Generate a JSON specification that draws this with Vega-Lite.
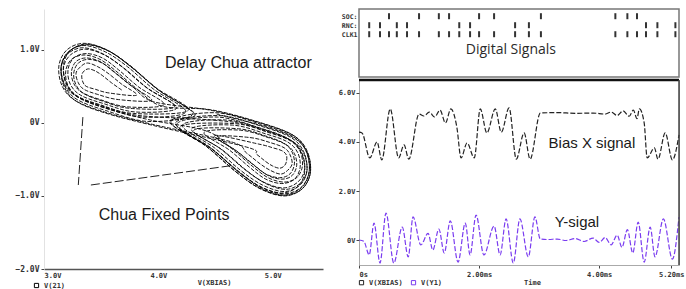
{
"$schema": "https://vega.github.io/schema/vega-lite/v6.json",
"background": "white",
"padding": {"left": 14, "top": 8, "right": 0, "bottom": 0},
"config": {
  "font": "Liberation Sans",
  "view": {"stroke": null},
  "axis": {"grid": false, "labelFont": "DejaVu Sans Mono", "labelFontWeight": "bold", "labelColor": "#333", "titleFont": "DejaVu Sans Mono", "titleFontWeight": "bold", "titleFontSize": 7, "titleColor": "#333", "tickColor": "#444"},
  "legend": {"labelFont": "DejaVu Sans Mono", "labelFontWeight": "bold", "labelFontSize": 7, "labelColor": "#333", "symbolType": "square", "symbolSize": 18, "symbolStrokeWidth": 1, "padding": 0, "columnPadding": 6, "title": null}
},
"bounds": "flush",
"spacing": 36,
"resolve": {"scale": {"color": "independent"}, "legend": {"color": "independent"}},
"hconcat": [
{
  "width": 279, "height": 260,
  "encoding": {
    "x": {"field": "x", "type": "quantitative", "scale": {"domain": [3, 5.44], "nice": false, "zero": false},
          "axis": {"values": [3, 4, 5], "labelExpr": "format(datum.value, '.1f') + 'V'", "labelFontSize": 7, "ticks": false, "labelPadding": 2, "domainColor": "#555", "domainWidth": 1.5, "title": "V(XBIAS)", "titleX": 170, "titlePadding": 0}},
    "y": {"field": "y", "type": "quantitative", "scale": {"domain": [-2, 1.56], "nice": false, "zero": false},
          "axis": {"values": [-2, -1, 0, 1], "labelExpr": "datum.value == 0 ? '0V' : format(datum.value, '.1f') + 'V'", "labelFontSize": 8, "tickSize": 3, "labelPadding": 2, "domainColor": "#e2e2e2", "title": null}}
  },
  "layer": [
    {
      "data": {"values": [
{"o":1,"x":3.68,"y":0.45},{"o":2,"x":3.59,"y":0.55},{"o":3,"x":3.51,"y":0.65},{"o":4,"x":3.45,"y":0.71},{"o":5,"x":3.39,"y":0.74},{"o":6,"x":3.35,"y":0.71},{"o":7,"x":3.33,"y":0.65},{"o":8,"x":3.34,"y":0.56},{"o":9,"x":3.37,"y":0.50},{"o":10,"x":3.45,"y":0.46},{"o":11,"x":3.57,"y":0.41},
{"o":12,"x":3.81,"y":0.38},{"o":13,"x":3.68,"y":0.53},{"o":14,"x":3.56,"y":0.68},{"o":15,"x":3.47,"y":0.77},{"o":16,"x":3.38,"y":0.82},{"o":17,"x":3.32,"y":0.77},{"o":18,"x":3.28,"y":0.68},{"o":19,"x":3.30,"y":0.55},{"o":20,"x":3.35,"y":0.46},{"o":21,"x":3.47,"y":0.39},{"o":22,"x":3.65,"y":0.32},
{"o":23,"x":3.94,"y":0.31},{"o":24,"x":3.76,"y":0.51},{"o":25,"x":3.61,"y":0.70},{"o":26,"x":3.49,"y":0.84},{"o":27,"x":3.37,"y":0.89},{"o":28,"x":3.28,"y":0.84},{"o":29,"x":3.24,"y":0.70},{"o":30,"x":3.26,"y":0.54},{"o":31,"x":3.33,"y":0.42},{"o":32,"x":3.49,"y":0.32},{"o":33,"x":3.73,"y":0.22},
{"o":34,"x":4.05,"y":0.25},{"o":35,"x":3.83,"y":0.49},{"o":36,"x":3.65,"y":0.73},{"o":37,"x":3.51,"y":0.89},{"o":38,"x":3.37,"y":0.95},{"o":39,"x":3.26,"y":0.89},{"o":40,"x":3.21,"y":0.73},{"o":41,"x":3.23,"y":0.53},{"o":42,"x":3.32,"y":0.38},{"o":43,"x":3.51,"y":0.27},{"o":44,"x":3.80,"y":0.15},
{"o":45,"x":4.16,"y":0.20},{"o":46,"x":3.91,"y":0.47},{"o":47,"x":3.70,"y":0.75},{"o":48,"x":3.53,"y":0.93},{"o":49,"x":3.36,"y":1.01},{"o":50,"x":3.23,"y":0.93},{"o":51,"x":3.17,"y":0.75},{"o":52,"x":3.20,"y":0.51},{"o":53,"x":3.30,"y":0.35},{"o":54,"x":3.53,"y":0.21},{"o":55,"x":3.86,"y":0.08},
{"o":56,"x":4.24,"y":0.15},{"o":57,"x":3.96,"y":0.46},{"o":58,"x":3.73,"y":0.77},{"o":59,"x":3.54,"y":0.97},{"o":60,"x":3.35,"y":1.06},{"o":61,"x":3.21,"y":0.97},{"o":62,"x":3.15,"y":0.77},{"o":63,"x":3.18,"y":0.51},{"o":64,"x":3.29,"y":0.32},{"o":65,"x":3.54,"y":0.17},{"o":66,"x":3.91,"y":0.02},
{"o":67,"x":4.30,"y":0.12},{"o":68,"x":4.00,"y":0.45},{"o":69,"x":3.75,"y":0.78},{"o":70,"x":3.55,"y":1.00},{"o":71,"x":3.35,"y":1.09},{"o":72,"x":3.20,"y":1.00},{"o":73,"x":3.13,"y":0.78},{"o":74,"x":3.16,"y":0.50},{"o":75,"x":3.28,"y":0.30},{"o":76,"x":3.55,"y":0.14},{"o":77,"x":3.95,"y":-0.02},
{"o":78,"x":4.64,"y":-0.26},{"o":79,"x":4.77,"y":-0.41},{"o":80,"x":4.89,"y":-0.56},{"o":81,"x":4.98,"y":-0.65},{"o":82,"x":5.07,"y":-0.70},{"o":83,"x":5.13,"y":-0.65},{"o":84,"x":5.17,"y":-0.56},{"o":85,"x":5.15,"y":-0.43},{"o":86,"x":5.10,"y":-0.34},{"o":87,"x":4.98,"y":-0.27},{"o":88,"x":4.80,"y":-0.20},
{"o":89,"x":4.51,"y":-0.19},{"o":90,"x":4.69,"y":-0.39},{"o":91,"x":4.84,"y":-0.58},{"o":92,"x":4.96,"y":-0.72},{"o":93,"x":5.08,"y":-0.77},{"o":94,"x":5.17,"y":-0.72},{"o":95,"x":5.21,"y":-0.58},{"o":96,"x":5.19,"y":-0.42},{"o":97,"x":5.12,"y":-0.30},{"o":98,"x":4.96,"y":-0.20},{"o":99,"x":4.72,"y":-0.10},
{"o":100,"x":4.40,"y":-0.13},{"o":101,"x":4.62,"y":-0.37},{"o":102,"x":4.80,"y":-0.61},{"o":103,"x":4.94,"y":-0.77},{"o":104,"x":5.08,"y":-0.83},{"o":105,"x":5.19,"y":-0.77},{"o":106,"x":5.24,"y":-0.61},{"o":107,"x":5.22,"y":-0.41},{"o":108,"x":5.13,"y":-0.26},{"o":109,"x":4.94,"y":-0.15},{"o":110,"x":4.65,"y":-0.03},
{"o":111,"x":4.29,"y":-0.08},{"o":112,"x":4.54,"y":-0.35},{"o":113,"x":4.75,"y":-0.63},{"o":114,"x":4.92,"y":-0.81},{"o":115,"x":5.09,"y":-0.89},{"o":116,"x":5.22,"y":-0.81},{"o":117,"x":5.28,"y":-0.63},{"o":118,"x":5.25,"y":-0.39},{"o":119,"x":5.15,"y":-0.23},{"o":120,"x":4.92,"y":-0.09},{"o":121,"x":4.59,"y":0.04},
{"o":122,"x":4.21,"y":-0.03},{"o":123,"x":4.49,"y":-0.34},{"o":124,"x":4.72,"y":-0.65},{"o":125,"x":4.91,"y":-0.85},{"o":126,"x":5.10,"y":-0.94},{"o":127,"x":5.24,"y":-0.85},{"o":128,"x":5.30,"y":-0.65},{"o":129,"x":5.27,"y":-0.39},{"o":130,"x":5.16,"y":-0.20},{"o":131,"x":4.91,"y":-0.05},{"o":132,"x":4.54,"y":0.10},
{"o":133,"x":4.15,"y":0.00},{"o":134,"x":4.45,"y":-0.33},{"o":135,"x":4.70,"y":-0.66},{"o":136,"x":4.90,"y":-0.88},{"o":137,"x":5.10,"y":-0.97},{"o":138,"x":5.25,"y":-0.88},{"o":139,"x":5.32,"y":-0.66},{"o":140,"x":5.29,"y":-0.38},{"o":141,"x":5.17,"y":-0.18},{"o":142,"x":4.90,"y":-0.02},{"o":143,"x":4.50,"y":0.14},
{"o":144,"x":4.11,"y":0.02},{"o":145,"x":4.42,"y":-0.32},{"o":146,"x":4.68,"y":-0.67},{"o":147,"x":4.89,"y":-0.90},{"o":148,"x":5.10,"y":-1.00},{"o":149,"x":5.26,"y":-0.90},{"o":150,"x":5.33,"y":-0.67},{"o":151,"x":5.30,"y":-0.38},{"o":152,"x":5.18,"y":-0.17},{"o":153,"x":4.89,"y":0.00},{"o":154,"x":4.47,"y":0.17},
{"o":155,"x":3.96,"y":0.29},{"o":156,"x":3.78,"y":0.49},{"o":157,"x":3.63,"y":0.68},{"o":158,"x":3.51,"y":0.82},{"o":159,"x":3.39,"y":0.87},{"o":160,"x":3.30,"y":0.82},{"o":161,"x":3.26,"y":0.68},{"o":162,"x":3.28,"y":0.52},{"o":163,"x":3.35,"y":0.40},{"o":164,"x":3.51,"y":0.30},{"o":165,"x":3.75,"y":0.20},
{"o":166,"x":4.14,"y":0.22},{"o":167,"x":3.89,"y":0.49},{"o":168,"x":3.68,"y":0.77},{"o":169,"x":3.51,"y":0.95},{"o":170,"x":3.34,"y":1.03},{"o":171,"x":3.21,"y":0.95},{"o":172,"x":3.15,"y":0.77},{"o":173,"x":3.18,"y":0.53},{"o":174,"x":3.28,"y":0.37},{"o":175,"x":3.51,"y":0.23},{"o":176,"x":3.84,"y":0.10},
{"o":177,"x":4.32,"y":0.10},{"o":178,"x":4.02,"y":0.43},{"o":179,"x":3.77,"y":0.76},{"o":180,"x":3.57,"y":0.98},{"o":181,"x":3.37,"y":1.07},{"o":182,"x":3.22,"y":0.98},{"o":183,"x":3.15,"y":0.76},{"o":184,"x":3.18,"y":0.48},{"o":185,"x":3.30,"y":0.28},{"o":186,"x":3.57,"y":0.12},{"o":187,"x":3.97,"y":-0.04},
{"o":188,"x":4.77,"y":-0.33},{"o":189,"x":4.86,"y":-0.43},{"o":190,"x":4.94,"y":-0.53},{"o":191,"x":5.00,"y":-0.59},{"o":192,"x":5.06,"y":-0.62},{"o":193,"x":5.10,"y":-0.59},{"o":194,"x":5.12,"y":-0.53},{"o":195,"x":5.12,"y":-0.44},{"o":196,"x":5.08,"y":-0.38},{"o":197,"x":5.00,"y":-0.34},{"o":198,"x":4.88,"y":-0.29},
{"o":199,"x":4.49,"y":-0.17},{"o":200,"x":4.67,"y":-0.37},{"o":201,"x":4.82,"y":-0.56},{"o":202,"x":4.94,"y":-0.70},{"o":203,"x":5.06,"y":-0.75},{"o":204,"x":5.15,"y":-0.70},{"o":205,"x":5.19,"y":-0.56},{"o":206,"x":5.17,"y":-0.40},{"o":207,"x":5.10,"y":-0.28},{"o":208,"x":4.94,"y":-0.18},{"o":209,"x":4.70,"y":-0.08},
{"o":210,"x":4.31,"y":-0.10},{"o":211,"x":4.56,"y":-0.37},{"o":212,"x":4.77,"y":-0.65},{"o":213,"x":4.94,"y":-0.83},{"o":214,"x":5.11,"y":-0.91},{"o":215,"x":5.24,"y":-0.83},{"o":216,"x":5.30,"y":-0.65},{"o":217,"x":5.27,"y":-0.41},{"o":218,"x":5.17,"y":-0.25},{"o":219,"x":4.94,"y":-0.11},{"o":220,"x":4.61,"y":0.02},
{"o":221,"x":4.10,"y":0.03},{"o":222,"x":4.41,"y":-0.31},{"o":223,"x":4.67,"y":-0.66},{"o":224,"x":4.88,"y":-0.89},{"o":225,"x":5.09,"y":-0.99},{"o":226,"x":5.25,"y":-0.89},{"o":227,"x":5.32,"y":-0.66},{"o":228,"x":5.29,"y":-0.37},{"o":229,"x":5.17,"y":-0.16},{"o":230,"x":4.88,"y":0.01},{"o":231,"x":4.46,"y":0.18},
{"o":232,"x":4.03,"y":0.23},{"o":233,"x":3.81,"y":0.47},{"o":234,"x":3.63,"y":0.71},{"o":235,"x":3.49,"y":0.87},{"o":236,"x":3.35,"y":0.93},{"o":237,"x":3.24,"y":0.87},{"o":238,"x":3.19,"y":0.71},{"o":239,"x":3.21,"y":0.51},{"o":240,"x":3.30,"y":0.36},{"o":241,"x":3.49,"y":0.25},{"o":242,"x":3.78,"y":0.13},
{"o":243,"x":4.26,"y":0.17},{"o":244,"x":3.98,"y":0.48},{"o":245,"x":3.75,"y":0.79},{"o":246,"x":3.56,"y":0.99},{"o":247,"x":3.37,"y":1.08},{"o":248,"x":3.23,"y":0.99},{"o":249,"x":3.17,"y":0.79},{"o":250,"x":3.20,"y":0.53},{"o":251,"x":3.31,"y":0.34},{"o":252,"x":3.56,"y":0.19},{"o":253,"x":3.93,"y":0.04},
{"o":254,"x":4.42,"y":-0.11},{"o":255,"x":4.64,"y":-0.35},{"o":256,"x":4.82,"y":-0.59},{"o":257,"x":4.96,"y":-0.75},{"o":258,"x":5.10,"y":-0.81},{"o":259,"x":5.21,"y":-0.75},{"o":260,"x":5.26,"y":-0.59},{"o":261,"x":5.24,"y":-0.39},{"o":262,"x":5.15,"y":-0.24},{"o":263,"x":4.96,"y":-0.13},{"o":264,"x":4.67,"y":-0.01},
{"o":265,"x":4.19,"y":-0.05},{"o":266,"x":4.47,"y":-0.36},{"o":267,"x":4.70,"y":-0.67},{"o":268,"x":4.89,"y":-0.87},{"o":269,"x":5.08,"y":-0.96},{"o":270,"x":5.22,"y":-0.87},{"o":271,"x":5.28,"y":-0.67},{"o":272,"x":5.25,"y":-0.41},{"o":273,"x":5.14,"y":-0.22},{"o":274,"x":4.89,"y":-0.07},{"o":275,"x":4.52,"y":0.08},
{"o":276,"x":4.16,"y":-0.02},{"o":277,"x":4.46,"y":-0.35},{"o":278,"x":4.71,"y":-0.68},{"o":279,"x":4.91,"y":-0.90},{"o":280,"x":5.11,"y":-0.99},{"o":281,"x":5.26,"y":-0.90},{"o":282,"x":5.33,"y":-0.68},{"o":283,"x":5.30,"y":-0.40},{"o":284,"x":5.18,"y":-0.20},{"o":285,"x":4.91,"y":-0.04},{"o":286,"x":4.51,"y":0.12}
      ]},
      "mark": {"type": "line", "interpolate": "cardinal", "strokeWidth": 0.9, "strokeDash": [4, 1.5]},
      "encoding": {
        "order": {"field": "o", "type": "quantitative"},
        "color": {"datum": "V(21)", "type": "nominal", "scale": {"range": ["#000000"]},
                  "legend": {"orient": "none", "legendX": -11, "legendY": 273, "direction": "horizontal"}}
      }
    },
    {
      "data": {"values": [{"x": 3.34, "y": 0.08, "x2": 3.30, "y2": -0.85}, {"x": 3.41, "y": -0.85, "x2": 4.66, "y2": -0.58}]},
      "mark": {"type": "rule", "color": "#222", "strokeWidth": 1, "strokeDash": [9, 3]},
      "encoding": {"x2": {"field": "x2"}, "y2": {"field": "y2"}}
    },
    {
      "data": {"values": [{"x": 4.70, "y": 0.82, "label": "Delay Chua attractor"}, {"x": 4.05, "y": -1.26, "label": "Chua Fixed Points"}]},
      "mark": {"type": "text", "fontSize": 16, "font": "Liberation Sans", "color": "#1a1a1a", "align": "center", "baseline": "middle"},
      "encoding": {"text": {"field": "label"}}
    }
  ]
},
{
  "bounds": "flush",
  "spacing": 3,
  "resolve": {"scale": {"color": "independent"}},
  "vconcat": [
    {
      "width": 320, "height": 68,
      "view": {"stroke": "#777", "strokeWidth": 1.5},
      "encoding": {
        "x": {"field": "t", "type": "quantitative", "scale": {"domain": [0, 5.33], "nice": false, "zero": false}, "axis": null},
        "y": {"field": "r", "type": "quantitative", "scale": {"domain": [-3.75, 3.8], "nice": false, "zero": false},
              "axis": {"values": [1, 2, 3], "labelExpr": "datum.value == 3 ? 'SOC:' : datum.value == 2 ? 'RNC:' : 'CLK1'", "labelFontSize": 6.5, "ticks": false, "domain": false, "labelPadding": 2, "title": null}}
      },
      "layer": [
        {
          "data": {"values": [
{"t":0.50,"r":3},{"t":1.00,"r":3},{"t":1.33,"r":3},{"t":1.50,"r":3},{"t":2.00,"r":3},{"t":2.25,"r":3},{"t":3.03,"r":3},{"t":4.27,"r":3},{"t":4.47,"r":3},{"t":4.63,"r":3},
{"t":0.17,"r":2},{"t":0.35,"r":2},{"t":0.63,"r":2},{"t":0.80,"r":2},{"t":1.67,"r":2},{"t":1.85,"r":2},{"t":2.60,"r":2},{"t":2.83,"r":2},{"t":4.78,"r":2},{"t":4.97,"r":2},{"t":5.27,"r":2},
{"t":0.17,"r":1},{"t":0.35,"r":1},{"t":0.50,"r":1},{"t":0.63,"r":1},{"t":0.80,"r":1},{"t":1.00,"r":1},{"t":1.33,"r":1},{"t":1.50,"r":1},{"t":1.67,"r":1},{"t":1.85,"r":1},{"t":2.00,"r":1},{"t":2.25,"r":1},{"t":2.60,"r":1},{"t":2.83,"r":1},{"t":3.03,"r":1},{"t":4.27,"r":1},{"t":4.47,"r":1},{"t":4.63,"r":1},{"t":4.78,"r":1},{"t":4.97,"r":1},{"t":5.27,"r":1}
          ]},
          "mark": {"type": "tick", "orient": "vertical", "size": 6, "thickness": 2, "color": "#333", "opacity": 1}
        },
        {
          "data": {"values": [{"t": 2.53, "r": -0.76, "label": "Digital Signals"}]},
          "mark": {"type": "text", "font": "Open Sans", "fontSize": 14, "color": "#2a2a2a", "align": "center", "baseline": "middle"},
          "encoding": {"text": {"field": "label"}}
        }
      ]
    },
    {
      "width": 320, "height": 185,
      "view": {"stroke": "#aaa", "strokeWidth": 1},
      "layer": [
        {
          "data": {"values": [
{"s":"V(XBIAS)","t":0,"v":4.40},{"s":"V(XBIAS)","t":0.05,"v":4.37},{"s":"V(XBIAS)","t":0.18,"v":3.35},{"s":"V(XBIAS)","t":0.30,"v":4.00},{"s":"V(XBIAS)","t":0.38,"v":3.27},{"s":"V(XBIAS)","t":0.52,"v":5.35},{"s":"V(XBIAS)","t":0.66,"v":3.35},{"s":"V(XBIAS)","t":0.75,"v":3.88},{"s":"V(XBIAS)","t":0.83,"v":3.30},{"s":"V(XBIAS)","t":1.00,"v":5.14},{"s":"V(XBIAS)","t":1.08,"v":5.06},{"s":"V(XBIAS)","t":1.17,"v":5.22},{"s":"V(XBIAS)","t":1.26,"v":5.02},{"s":"V(XBIAS)","t":1.35,"v":5.30},{"s":"V(XBIAS)","t":1.44,"v":4.78},{"s":"V(XBIAS)","t":1.53,"v":5.35},{"s":"V(XBIAS)","t":1.63,"v":4.60},{"s":"V(XBIAS)","t":1.70,"v":3.35},{"s":"V(XBIAS)","t":1.80,"v":3.96},{"s":"V(XBIAS)","t":1.92,"v":3.35},{"s":"V(XBIAS)","t":2.02,"v":5.35},{"s":"V(XBIAS)","t":2.13,"v":4.37},{"s":"V(XBIAS)","t":2.27,"v":5.35},{"s":"V(XBIAS)","t":2.37,"v":4.40},{"s":"V(XBIAS)","t":2.50,"v":5.39},{"s":"V(XBIAS)","t":2.62,"v":3.30},{"s":"V(XBIAS)","t":2.75,"v":4.37},{"s":"V(XBIAS)","t":2.85,"v":3.30},{"s":"V(XBIAS)","t":3.02,"v":5.18},{"s":"V(XBIAS)","t":3.30,"v":5.20},{"s":"V(XBIAS)","t":3.60,"v":5.17},{"s":"V(XBIAS)","t":3.90,"v":5.18},{"s":"V(XBIAS)","t":4.10,"v":5.14},{"s":"V(XBIAS)","t":4.20,"v":5.22},{"s":"V(XBIAS)","t":4.30,"v":5.08},{"s":"V(XBIAS)","t":4.40,"v":5.27},{"s":"V(XBIAS)","t":4.50,"v":5.05},{"s":"V(XBIAS)","t":4.57,"v":5.30},{"s":"V(XBIAS)","t":4.63,"v":4.95},{"s":"V(XBIAS)","t":4.67,"v":5.35},{"s":"V(XBIAS)","t":4.75,"v":4.78},{"s":"V(XBIAS)","t":4.80,"v":3.35},{"s":"V(XBIAS)","t":4.92,"v":3.76},{"s":"V(XBIAS)","t":4.98,"v":3.30},{"s":"V(XBIAS)","t":5.10,"v":4.37},{"s":"V(XBIAS)","t":5.22,"v":3.27},{"s":"V(XBIAS)","t":5.33,"v":4.29},
{"s":"V(Y1)","t":0,"v":0},{"s":"V(Y1)","t":0.08,"v":-0.05},{"s":"V(Y1)","t":0.17,"v":-0.61},{"s":"V(Y1)","t":0.25,"v":0.69},{"s":"V(Y1)","t":0.35,"v":-0.94},{"s":"V(Y1)","t":0.45,"v":1.10},{"s":"V(Y1)","t":0.58,"v":-0.94},{"s":"V(Y1)","t":0.72,"v":0.53},{"s":"V(Y1)","t":0.82,"v":-0.69},{"s":"V(Y1)","t":0.90,"v":0.94},{"s":"V(Y1)","t":1.03,"v":-0.20},{"s":"V(Y1)","t":1.15,"v":0.27},{"s":"V(Y1)","t":1.23,"v":-0.41},{"s":"V(Y1)","t":1.33,"v":0.45},{"s":"V(Y1)","t":1.42,"v":-0.53},{"s":"V(Y1)","t":1.52,"v":0.78},{"s":"V(Y1)","t":1.65,"v":-0.90},{"s":"V(Y1)","t":1.77,"v":0.69},{"s":"V(Y1)","t":1.85,"v":-0.61},{"s":"V(Y1)","t":1.95,"v":1.02},{"s":"V(Y1)","t":2.08,"v":-0.61},{"s":"V(Y1)","t":2.25,"v":0.57},{"s":"V(Y1)","t":2.35,"v":-0.61},{"s":"V(Y1)","t":2.45,"v":0.86},{"s":"V(Y1)","t":2.57,"v":-0.94},{"s":"V(Y1)","t":2.68,"v":0.86},{"s":"V(Y1)","t":2.82,"v":-0.69},{"s":"V(Y1)","t":2.93,"v":0.94},{"s":"V(Y1)","t":3.02,"v":0.04},{"s":"V(Y1)","t":3.15,"v":0.02},{"s":"V(Y1)","t":3.30,"v":0.04},{"s":"V(Y1)","t":3.45,"v":-0.02},{"s":"V(Y1)","t":3.60,"v":0.06},{"s":"V(Y1)","t":3.75,"v":-0.06},{"s":"V(Y1)","t":3.90,"v":0.08},{"s":"V(Y1)","t":4.00,"v":-0.10},{"s":"V(Y1)","t":4.10,"v":0.10},{"s":"V(Y1)","t":4.20,"v":-0.20},{"s":"V(Y1)","t":4.30,"v":0.20},{"s":"V(Y1)","t":4.38,"v":-0.30},{"s":"V(Y1)","t":4.47,"v":0.42},{"s":"V(Y1)","t":4.56,"v":-0.53},{"s":"V(Y1)","t":4.65,"v":0.73},{"s":"V(Y1)","t":4.75,"v":-0.90},{"s":"V(Y1)","t":4.85,"v":0.53},{"s":"V(Y1)","t":4.93,"v":-0.69},{"s":"V(Y1)","t":5.07,"v":0.86},{"s":"V(Y1)","t":5.22,"v":-0.78},{"s":"V(Y1)","t":5.33,"v":0.94}
          ]},
          "mark": {"type": "line", "interpolate": "monotone", "strokeWidth": 1.2, "strokeDash": [5, 2]},
          "encoding": {
            "x": {"field": "t", "type": "quantitative", "scale": {"domain": [0, 5.33], "nice": false, "zero": false},
                  "axis": {"values": [0, 2, 4, 5.2], "labelExpr": "datum.value == 0 ? '0s' : format(datum.value, '.2f') + 'ms'", "labelFontSize": 7, "tickSize": 3, "labelPadding": 2, "domainColor": "#aaa", "title": "Time", "titleX": 173, "titlePadding": 1}},
            "y": {"field": "v", "type": "quantitative", "scale": {"domain": [-1.02, 6.53], "nice": false, "zero": false},
                  "axis": {"values": [0, 2, 4, 6], "labelExpr": "datum.value == 0 ? '0V' : format(datum.value, '.1f') + 'V'", "labelFontSize": 7, "tickSize": 3, "labelPadding": 1, "domain": false, "title": null}},
            "color": {"field": "s", "type": "nominal", "scale": {"domain": ["V(XBIAS)", "V(Y1)"], "range": ["#222222", "#7a3cf0"]},
                      "legend": {"orient": "none", "legendX": -1, "legendY": 199, "direction": "horizontal"}}
          }
        },
        {
          "data": {"values": [{"t": 3.88, "v": 3.96, "label": "Bias X signal"}, {"t": 3.63, "v": 0.73, "label": "Y-sigal"}]},
          "mark": {"type": "text", "font": "Liberation Sans", "fontSize": 15, "color": "#1a1a1a", "align": "center", "baseline": "middle"},
          "encoding": {"x": {"field": "t", "type": "quantitative"}, "y": {"field": "v", "type": "quantitative"}, "text": {"field": "label"}}
        },
        {
          "data": {"values": [{}]},
          "mark": {"type": "rule", "color": "#111", "strokeWidth": 2.5},
          "encoding": {"y": {"datum": 6.53}}
        },
        {
          "data": {"values": [{}]},
          "mark": {"type": "rule", "color": "#444", "strokeWidth": 1.5},
          "encoding": {"x": {"datum": 5.33}}
        }
      ]
    }
  ]
}
]
}
